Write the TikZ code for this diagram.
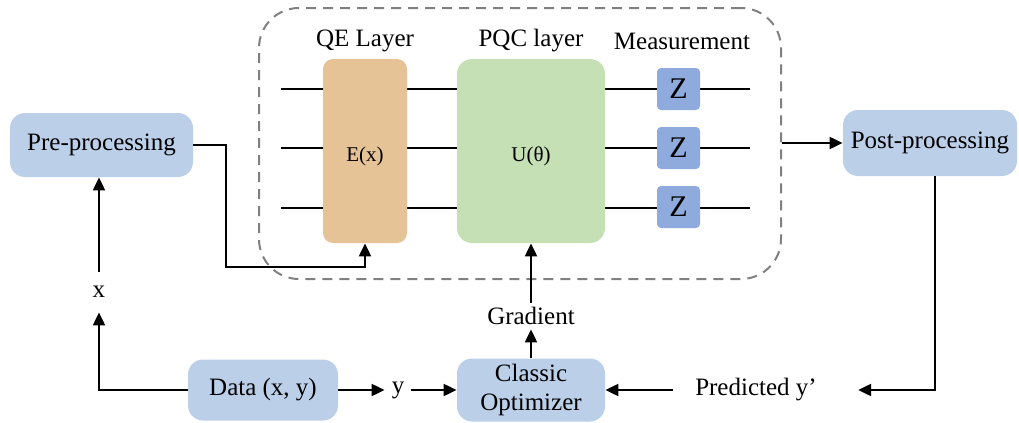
\documentclass[tikz,border=0pt]{standalone}
\usepackage{fontspec}
\setmainfont{Liberation Serif}
\usetikzlibrary{arrows.meta,calc}
\definecolor{boxblue}{RGB}{188,207,233}
\definecolor{qeorange}{RGB}{230,195,151}
\definecolor{pqcgreen}{RGB}{197,224,180}
\definecolor{zblue}{RGB}{143,170,220}
\definecolor{dashgray}{RGB}{128,128,128}
\tikzset{
  txt/.style={font=\fontsize{12.5}{14.5}\selectfont},
  procbox/.style={txt, fill=boxblue, rounded corners=7.5pt, inner sep=0pt, align=center},
  zbox/.style={fill=zblue, rounded corners=2pt, minimum width=21.5pt, minimum height=21pt, inner sep=0pt, font=\fontsize{15}{17}\selectfont},
  gatebox/.style={rounded corners=5pt, inner sep=0pt, font=\fontsize{10.5}{12}\selectfont},
  arr/.style={line width=1pt, -{Triangle[length=6.5pt,width=6pt]}},
  wire/.style={line width=1pt},
}
\begin{document}
\begin{tikzpicture}[x=0.5pt,y=-0.5pt]
\useasboundingbox (0,0) rectangle (1019,423);
% quantum dashed block
\node[draw=dashgray, line width=1pt, dash pattern=on 5pt off 3.5pt, rounded corners=20pt,
      minimum width=261pt, minimum height=135.5pt, inner sep=0pt] (qbox) at (520,143.5) {};
% wires
\coordinate (w1s) at (281,89);  \coordinate (w1e) at (750,89);
\coordinate (w2s) at (281,148); \coordinate (w2e) at (750,148);
\coordinate (w3s) at (281,208); \coordinate (w3e) at (750,208);
\draw[wire] (w1s) -- (w1e);
\draw[wire] (w2s) -- (w2e);
\draw[wire] (w3s) -- (w3e);
% gates
\node[gatebox, fill=qeorange, minimum width=42pt, minimum height=92pt] (qe) at (365,151) {};
\node[gatebox, fill=pqcgreen, rounded corners=7.5pt, minimum width=74pt, minimum height=92pt] (pqc) at (531,151) {};
\node[font=\fontsize{10.5}{12}\selectfont] (ex) at (365,156) {E(x)};
\node[font=\fontsize{10.5}{12}\selectfont] (ut) at (531,156) {U(θ)};
\node[zbox] (z1) at (678.5,89) {Z};
\node[zbox] (z2) at (678.5,148) {Z};
\node[zbox] (z3) at (678.5,207) {Z};
% titles
\node[txt] (t1) at (365,41) {QE Layer};
\node[txt] (t2) at (531,41) {PQC layer};
\node[txt] (t3) at (682,41) {Measurement};
% process boxes
\node[procbox, minimum width=91.5pt, minimum height=32pt] (pre) at (101.5,145) {Pre-processing};
\node[procbox, minimum width=87pt, minimum height=33pt] (post) at (930,143) {Post-processing};
\node[procbox, minimum width=75pt, minimum height=30.5pt] (data) at (263,390) {Data (x, y)};
\node[procbox, minimum width=74pt, minimum height=31.5pt] (opt) at (531,390) {Classic\\Optimizer};
% labels
\node[txt, inner sep=0pt, minimum height=20pt] (xl) at (99,292) {x};
\node[txt, inner sep=0pt, minimum width=13pt] (yl) at (398,390) {y};
\node[txt, inner sep=0pt, minimum height=13pt] (grad) at (531,316) {Gradient};
\node[txt, inner sep=0pt] (pred) at (756,390) {Predicted y’};
\coordinate (c1) at (226,267);
% connectors
\draw[arr] (pre.east) -| (c1) -| (qe.south);
\draw[arr] (data.west) -| (xl.south);
\draw[arr] (xl.north) -- (xl.north |- pre.south);
\draw[arr] (data.east) -- (yl.west);
\draw[arr] (yl.east) -- (opt.west);
\draw[arr] (opt.north) -- (grad.south);
\draw[arr] (grad.north) -- (pqc.south);
\draw[arr, shorten >=20.5pt] ([xshift=2.5pt]post.south) |- (pred.east);
\draw[arr, shorten <=11pt] (pred.west) -- (opt.east);
\draw[arr] (qbox.east |- post.west) -- (post.west);
\end{tikzpicture}
\end{document}
